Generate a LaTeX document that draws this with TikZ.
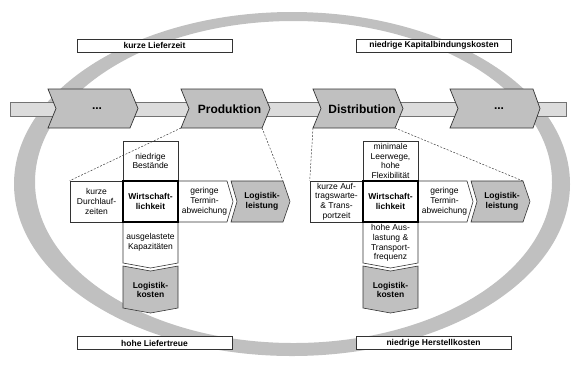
\documentclass[tikz,border=0pt]{standalone}
\usepackage{fontspec}
\setmainfont{Liberation Sans}
\definecolor{ringgray}{HTML}{C0C0C0}
\definecolor{chevgray}{HTML}{C0C0C0}
\definecolor{bargray}{HTML}{DCDCDC}
\definecolor{edge}{HTML}{333333}
\begin{document}
\begin{tikzpicture}[x=1pt,y=-1pt,
  every node/.style={inner sep=0pt, align=center},
  small/.style={font=\fontsize{8.5}{9.8}\selectfont},
  smallbold/.style={font=\bfseries\fontsize{8.5}{9.8}\selectfont},
  lbl/.style={draw=edge, line width=0.6pt, fill=white, minimum width=155pt, minimum height=13pt, font=\bfseries\fontsize{8.5}{9}\selectfont},
  chev/.style={draw=edge, line width=0.7pt, fill=chevgray},
  chevtxt/.style={font=\bfseries\fontsize{12}{14}\selectfont},
  wbox/.style={draw=edge, line width=0.6pt, fill=white},
  gbox/.style={draw=edge, line width=0.6pt, fill=chevgray},
  core/.style={draw=black, line width=1.1pt, minimum width=55pt, minimum height=41pt, font=\bfseries\fontsize{8.5}{9.8}\selectfont},
  cell/.style={draw=edge, line width=0.6pt, fill=white, font=\fontsize{8.5}{9.8}\selectfont},
  guide/.style={draw=black!75, line width=0.5pt, dash pattern=on 2pt off 1.5pt}
]
\useasboundingbox (0,0) rectangle (572,368);
% ring
\fill[ringgray, even odd rule] (292,184) ellipse [x radius=278pt, y radius=172pt]
  (293.5,182) ellipse [x radius=258.5pt, y radius=161pt];
% process bar
\draw[fill=bargray, draw=black!55, line width=0.6pt] (10,102) rectangle (566,116);
% chevrons
\draw[chev] (48,89) -- (130,89) -- (138,108.5) -- (130,128) -- (48,128) -- (56,108.5) -- cycle;
\node[chevtxt] (c1) at (97,109) {...};
\draw[chev] (181,89) -- (262,89) -- (270,108.5) -- (262,128) -- (181,128) -- (189,108.5) -- cycle;
\node[chevtxt] (c2) at (229.5,109) {Produktion};
\draw[chev] (313,89) -- (395,89) -- (403,108.5) -- (395,128) -- (313,128) -- (321,108.5) -- cycle;
\node[chevtxt] (c3) at (362,109) {Distribution};
\draw[chev] (450,89) -- (533,89) -- (540,108.5) -- (533,128) -- (450,128) -- (458,108.5) -- cycle;
\node[chevtxt] (c4) at (499,109) {...};
\coordinate (c2bl) at (181,128);
\coordinate (c2br) at (262,128);
\coordinate (c3bl) at (313,128);
\coordinate (c3br) at (395,128);
% labels
\node[lbl] (t1) at (154.5,45.5) {kurze Lieferzeit};
\node[lbl] (t2) at (434,45.5) {niedrige Kapitalbindungskosten};
\node[lbl] (b1) at (154.5,343) {hohe Liefertreue};
\node[lbl] (b2) at (433.5,343) {niedrige Herstellkosten};
% left cross
\node[cell, minimum width=55pt, minimum height=40pt] (Ltop) at (150.5,161) {niedrige\\Bestände};
\node[cell, minimum width=53pt, minimum height=41pt] (Lleft) at (96.5,201.5) {kurze\\Durchlauf-\\zeiten};
\draw[wbox] (178,181) -- (227,181) -- (233,201.5) -- (227,222) -- (178,222) -- cycle;
\node[small] (Lright) at (204.5,201.5) {geringe\\Termin-\\abweichung};
\draw[gbox] (231,181) -- (283,181) -- (290,201.5) -- (283,222) -- (231,222) -- (237,201.5) -- cycle;
\coordinate (Lgaintr) at (283,181);
\node[smallbold] (Lgain) at (262,201.5) {Logistik-\\leistung};
\draw[wbox] (123,222) -- (178,222) -- (178,263) -- (150.5,268) -- (123,263) -- cycle;
\node[small] (Lbot) at (150.5,242) {ausgelastete\\Kapazitäten};
\draw[gbox] (123,266) -- (150.5,271) -- (178,266) -- (178,308) -- (150.5,313) -- (123,308) -- cycle;
\node[smallbold] (Lcost) at (150.5,290) {Logistik-\\kosten};
\node[core] (Lcore) at (150.5,201.5) {Wirtschaft-\\lichkeit};
\draw[guide] (c2bl) -- (Lleft.north west);
\draw[guide] (c2br) -- (Lgaintr);
% right cross
\begin{scope}[xshift=240pt]
\node[cell, minimum width=55pt, minimum height=40pt] (Rtop) at (150.5,161) {minimale\\Leerwege,\\hohe\\Flexibilität};
\node[cell, minimum width=53pt, minimum height=41pt] (Rleft) at (96.5,201.5) {kurze Auf-\\tragswarte-\\\& Trans-\\portzeit};
\draw[wbox] (178,181) -- (227,181) -- (233,201.5) -- (227,222) -- (178,222) -- cycle;
\node[small] (Rright) at (204.5,201.5) {geringe\\Termin-\\abweichung};
\draw[gbox] (231,181) -- (283,181) -- (290,201.5) -- (283,222) -- (231,222) -- (237,201.5) -- cycle;
\coordinate (Rgaintr) at (283,181);
\node[smallbold] (Rgain) at (262,201.5) {Logistik-\\leistung};
\draw[wbox] (123,222) -- (178,222) -- (178,263) -- (150.5,268) -- (123,263) -- cycle;
\node[small] (Rbot) at (150.5,243) {hohe Aus-\\lastung \&\\Transport-\\frequenz};
\draw[gbox] (123,266) -- (150.5,271) -- (178,266) -- (178,308) -- (150.5,313) -- (123,308) -- cycle;
\node[smallbold] (Rcost) at (150.5,290) {Logistik-\\kosten};
\node[core] (Rcore) at (150.5,201.5) {Wirtschaft-\\lichkeit};
\end{scope}
\draw[guide] (c3bl) -- (Rleft.north west);
\draw[guide] (c3br) -- (Rgaintr);
\end{tikzpicture}
\end{document}
